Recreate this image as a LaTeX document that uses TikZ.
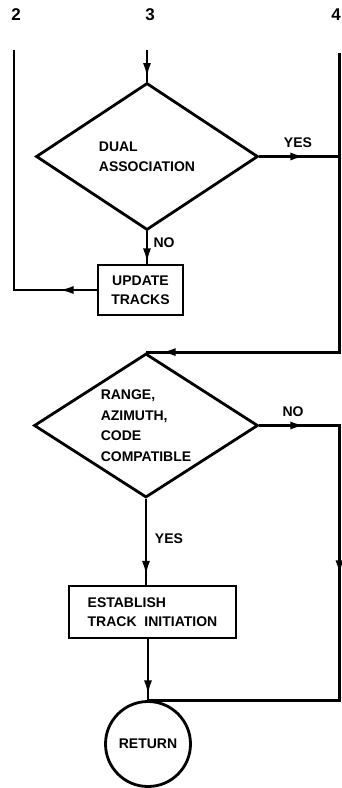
\documentclass[tikz,border=0pt]{standalone}
\usepackage{fontspec}
\setmainfont{Liberation Sans}
\usetikzlibrary{shapes.geometric,arrows.meta,decorations.markings}

\tikzset{
  flowline/.style={line width=2.8pt, line join=miter},
  tipshape/.tip={Latex[length=15pt,width=8pt]},
  arrowat/.style={postaction={decorate},
    decoration={markings, mark=at position #1 with {\arrow{tipshape}}}},
  twoarrows/.style 2 args={postaction={decorate},
    decoration={markings,
      mark=at position #1 with {\arrow{tipshape}},
      mark=at position #2 with {\arrow{tipshape}}}},
  txt/.style={font=\bfseries\fontsize{14}{19}\selectfont},
  flowbox/.style={draw, rectangle, line width=2.8pt, inner sep=0pt, txt},
  decision/.style={draw, diamond, line width=2.8pt, inner sep=0pt, align=left,
    shape aspect=1.55, font=\bfseries\fontsize{14}{20.5}\selectfont},
  terminal/.style={draw, circle, line width=2.8pt, inner sep=0pt, txt,
    minimum size=85pt},
  tag/.style={txt, inner sep=0pt},
  pagenum/.style={font=\bfseries\fontsize{17}{17}\selectfont, inner sep=0pt}
}

\begin{document}
\begin{tikzpicture}[x=1pt,y=-1pt]
\useasboundingbox (0,0) rectangle (341,788);

% off-page connector numbers
\node[pagenum] (n2) at (16,15) {2};
\node[pagenum] (n3) at (150,15) {3};
\node[pagenum, anchor=east] (n4) at (341,15) {4};

% entry points of the three incoming lines
\coordinate (in2) at (14,50);
\coordinate (in3) at (147,50);
\coordinate (in4) at (339.5,53);

% blocks
\node[decision, minimum width=222pt, minimum height=147pt] (dual) at (147,156.5)
  {DUAL\\ASSOCIATION};
\node[flowbox, minimum width=85pt, minimum height=50pt, align=center] (upd) at (140.5,290)
  {UPDATE\\TRACKS};
\node[decision, minimum width=224pt, minimum height=144pt] (compat) at (146,425.5)
  {RANGE,\\AZIMUTH,\\CODE\\COMPATIBLE};
\node[flowbox, minimum width=167pt, minimum height=52pt, align=left] (est) at (152.5,612)
  {ESTABLISH\\TRACK\ \ INITIATION};
\node[terminal] (ret) at (148,744) {RETURN};

% connectors
\draw[flowline, arrowat=28pt] (in3) -- (dual.north);
\draw[flowline, arrowat=46pt] (dual.east) -- (in4 |- dual.east);
\draw[flowline, arrowat=478pt] (in4) -- (in4 |- compat.north) -- (compat.north);
\draw[flowline, arrowat=32pt] (dual.south) -- (dual.south |- upd.north);
\draw[flowline, arrowat=38pt] (upd.west) -- (in2 |- upd.west) -- (in2);
\draw[flowline, twoarrows={46pt}{230pt}]
  (compat.east) -- (in4 |- compat.east) -- (in4 |- ret.north) -- (ret.north);
\draw[flowline, arrowat=77pt] (compat.south) -- (compat.south |- est.north);
\draw[flowline, arrowat=56pt] (est.south -| ret.north) -- (ret.north);

% branch labels
\node[tag] (yes1) at (298,143) {YES};
\node[tag] (no1) at (164,243) {NO};
\node[tag] (no2) at (293,412) {NO};
\node[tag] (yes2) at (169,539) {YES};
\end{tikzpicture}
\end{document}
